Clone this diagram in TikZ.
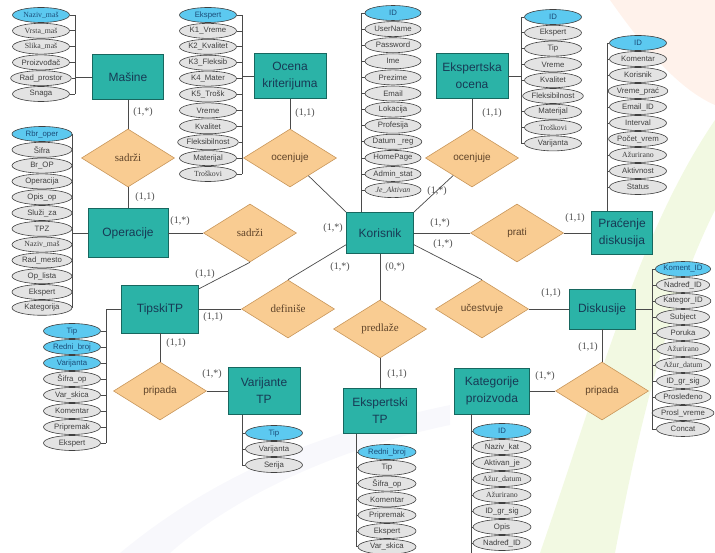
\documentclass[tikz,border=0pt]{standalone}
\usepackage{fontspec}
\setmainfont{Liberation Serif}
\setsansfont{Liberation Sans}
\usetikzlibrary{shapes.geometric,calc}

\definecolor{entfill}{HTML}{2BB3A7}
\definecolor{entline}{HTML}{17675F}
\definecolor{enttext}{HTML}{173A55}
\definecolor{relfill}{HTML}{F9CC92}
\definecolor{relline}{HTML}{C8965A}
\definecolor{reltext}{HTML}{5E4329}
\definecolor{attfill}{HTML}{E3E3E3}
\definecolor{keyfill}{HTML}{5CC9F0}
\definecolor{keytext}{HTML}{1B4C78}
\definecolor{linegray}{HTML}{4A4A4A}

\tikzset{
  ent/.style={draw=entline, fill=entfill, line width=0.8pt, text=enttext, align=center,
    font=\sffamily\fontsize{12}{17}\selectfont, minimum width=72pt, minimum height=45pt, inner sep=2pt},
  rel/.style={diamond, draw=relline, fill=relfill, line width=0.6pt, text=reltext,
    font=\sffamily\fontsize{10}{12}\selectfont, minimum width=93pt, minimum height=58pt, inner sep=0pt},
  relrm/.style={rel, font=\rmfamily\fontsize{11}{12}\selectfont},
  att/.style={ellipse, draw=black!75, fill=attfill, line width=0.6pt, text=black!75,
    font=\sffamily\fontsize{7.8}{8}\selectfont, minimum width=57pt, minimum height=15pt, inner sep=0pt},
  keyatt/.style={att, fill=keyfill, text=keytext},
  card/.style={font=\rmfamily\fontsize{10}{10}\selectfont, text=black!70},
  lnk/.style={draw=linegray, line width=0.7pt}
}

\begin{document}
\begin{tikzpicture}[x=1pt,y=-1pt]
  \useasboundingbox (0,0) rectangle (715,553);
  % faint background swoosh
  \fill[yellow!60!green, opacity=0.13] (540,553) .. controls (600,380) and (640,230) .. (715,120) -- (715,210) .. controls (670,300) and (640,420) .. (615,553) -- cycle;
  \fill[orange!70!red, opacity=0.08] (610,0) .. controls (645,50) and (680,90) .. (715,105) -- (715,0) -- cycle;
  \fill[blue!30!gray, opacity=0.04] (120,553) .. controls (220,470) and (330,430) .. (450,405) -- (450,425) .. controls (330,450) and (230,500) .. (170,553) -- cycle;

  % entities
  \node[ent, minimum width=71pt] (masine) at (128,77) {Mašine};
  \node[ent] (ocena) at (290,76) {Ocena\\kriterijuma};
  \node[ent, minimum width=67pt, minimum height=41pt] (korisnik) at (380,233) {Korisnik};
  \node[ent] (ekocena) at (472,76) {Ekspertska\\ocena};
  \node[ent, minimum width=61pt, minimum height=43pt] (pracenje) at (622,233) {Praćenje\\diskusija};
  \node[ent, minimum width=66pt, minimum height=40pt] (diskusije) at (602,309) {Diskusije};
  \node[ent, minimum width=80pt, minimum height=49pt] (operacije) at (128,233) {Operacije};
  \node[ent, minimum width=77pt, minimum height=48pt] (tipski) at (160,309) {TipskiTP};
  \node[ent, minimum height=47pt] (varijante) at (264,391) {Varijante\\TP};
  \node[ent, minimum width=73pt] (ekspertski) at (380,411) {Ekspertski\\TP};
  \node[ent, minimum width=75pt, minimum height=46pt] (kategorije) at (492,391) {Kategorije\\proizvoda};

  % relationships
  \node[relrm] (sadrziA) at (128,158) {sadrži};
  \node[rel] (ocenjujeA) at (290,158) {ocenjuje};
  \node[rel] (ocenjujeB) at (472,158) {ocenjuje};
  \node[relrm] (sadrziB) at (250,233) {sadrži};
  \node[rel] (prati) at (517,233) {prati};
  \node[relrm] (definise) at (288,309) {definiše};
  \node[relrm] (predlaze) at (380,329) {predlaže};
  \node[rel] (ucestvuje) at (482,309) {učestvuje};
  \node[rel] (pripadaA) at (160,391) {pripada};
  \node[rel] (pripadaB) at (602,391) {pripada};

  \draw[lnk] (masine) -- (sadrziA);
  \draw[lnk] (sadrziA) -- (operacije);
  \draw[lnk] (ocena) -- (ocenjujeA);
  \draw[lnk] (ocenjujeA) -- (korisnik.north west);
  \draw[lnk] (ekocena) -- (ocenjujeB);
  \draw[lnk] (ocenjujeB) -- (korisnik.north east);
  \draw[lnk] (operacije) -- (sadrziB);
  \draw[lnk] (sadrziB.south) -- (tipski);
  \draw[lnk] (tipski) -- (definise);
  \draw[lnk] (definise.north) -- ($(korisnik.south west)!0.22!(korisnik.north west)$);
  \draw[lnk] (korisnik) -- (prati);
  \draw[lnk] (prati) -- (pracenje);
  \draw[lnk] ($(korisnik.south east)!0.22!(korisnik.north east)$) -- (ucestvuje.north);
  \draw[lnk] (ucestvuje) -- (diskusije);
  \draw[lnk] (korisnik) -- (predlaze);
  \draw[lnk] (predlaze) -- (ekspertski);
  \draw[lnk] (tipski) -- (pripadaA);
  \draw[lnk] (pripadaA) -- (varijante);
  \draw[lnk] (kategorije) -- (pripadaB);
  \draw[lnk] (pripadaB) -- (diskusije);

  % cardinalities
  \node[card] (c1) at (143,112) {(1,*)};
  \node[card] (c2) at (145,197) {(1,1)};
  \node[card] (c3) at (180,221) {(1,*)};
  \node[card] (c4) at (305,113) {(1,1)};
  \node[card] (c5) at (492,113) {(1,1)};
  \node[card] (c6) at (437,191) {(1,*)};
  \node[card] (c7) at (333,228) {(1,*)};
  \node[card] (c8) at (440,223) {(1,*)};
  \node[card] (c9) at (443,244) {(1,*)};
  \node[card] (c10) at (340,267) {(1,*)};
  \node[card] (c11) at (395,267) {(0,*)};
  \node[card] (c12) at (205,274) {(1,1)};
  \node[card] (c13) at (213,317) {(1,1)};
  \node[card] (c14) at (176,343) {(1,1)};
  \node[card] (c15) at (212,374) {(1,*)};
  \node[card] (c16) at (575,218) {(1,1)};
  \node[card] (c17) at (551,293) {(1,1)};
  \node[card] (c18) at (588,347) {(1,1)};
  \node[card] (c19) at (545,376) {(1,*)};
  \node[card] (c20) at (397,374) {(1,1)};

  % Masine attributes
  \coordinate (masbus) at (75,15);
  \node[keyatt, font=\rmfamily\fontsize{7.8}{8}\selectfont] (mas1) at (41,15) {Naziv\_maš};
  \foreach \t [count=\i from 2] in {{\rmfamily Vrsta\_maš},{\rmfamily Slika\_maš},Proizvođač,Rad\_prostor,Snaga}
    \node[att] (mas\i) at (41,{15+15.8*(\i-1)}) {\t};
  \foreach \i in {1,...,6} \draw[lnk] (mas\i.east) -- (mas\i.east -| masbus);
  \draw[lnk] (masbus) -- (mas6.east -| masbus);
  \draw[lnk] (masine.west) -- (masine.west -| masbus);

  % Operacije attributes
  \coordinate (opbus) at (72,134);
  \node[keyatt, minimum width=60pt] (op1) at (42,134) {Rbr\_oper};
  \foreach \t [count=\i from 2] in {Šifra,Br\_OP,Operacija,Opis\_op,Služi\_za,TPZ,{\rmfamily Naziv\_maš},Rad\_mesto,Op\_lista,Ekspert,Kategorija}
    \node[att, minimum width=60pt] (op\i) at (42,{134+15.8*(\i-1)}) {\t};
  \foreach \i in {1,...,12} \draw[lnk] (op\i.east) -- (op\i.east -| opbus);
  \draw[lnk] (opbus) -- (op12.east -| opbus);
  \draw[lnk] (operacije.west) -- (operacije.west -| opbus);

  % Ocena kriterijuma attributes
  \coordinate (ocbus) at (242,15);
  \node[keyatt] (oc1) at (208,15) {Ekspert};
  \foreach \t [count=\i from 2] in {K1\_Vreme,K2\_Kvalitet,K3\_Fleksib,K4\_Mater,K5\_Trošk,Vreme,Kvalitet,Fleksibilnost,Materijal,{\rmfamily Troškovi}}
    \node[att] (oc\i) at (208,{15+15.9*(\i-1)}) {\t};
  \foreach \i in {1,...,11} \draw[lnk] (oc\i.east) -- (oc\i.east -| ocbus);
  \draw[lnk] (ocbus) -- (oc11.east -| ocbus);
  \draw[lnk] (ocena.west) -- (ocena.west -| ocbus);

  % Korisnik attributes
  \coordinate (korbus) at (361,13);
  \node[keyatt, minimum width=56pt] (kor1) at (393,13) {ID};
  \foreach \t [count=\i from 2] in {UserName,Password,Ime,Prezime,Email,Lokacija,Profesija,Datum \_reg,HomePage,Admin\_stat,{\rmfamily\itshape Je\_Aktivan}}
    \node[att, minimum width=56pt] (kor\i) at (393,{13+16.1*(\i-1)}) {\t};
  \foreach \i in {1,...,12} \draw[lnk] (kor\i.west) -- (kor\i.west -| korbus);
  \draw[lnk] (korbus) -- (korisnik.north -| korbus);

  % Ekspertska ocena attributes
  \coordinate (ekbus) at (521,17);
  \node[keyatt] (ek1) at (553,17) {ID};
  \foreach \t [count=\i from 2] in {Ekspert,Tip,Vreme,Kvalitet,Fleksibilnost,Materijal,{\rmfamily Troškovi},Varijanta}
    \node[att] (ek\i) at (553,{17+15.8*(\i-1)}) {\t};
  \foreach \i in {1,...,9} \draw[lnk] (ek\i.west) -- (ek\i.west -| ekbus);
  \draw[lnk] (ekbus) -- (ek9.west -| ekbus);
  \draw[lnk] (ekocena.east) -- (ekocena.east -| ekbus);

  % Pracenje diskusija attributes
  \coordinate (prbus) at (607,43);
  \node[keyatt] (pr1) at (638,43) {ID};
  \foreach \t [count=\i from 2] in {Komentar,Korisnik,Vreme\_prać,Email\_ID,Interval,Počet\_vrem,{\rmfamily Ažurirano},Aktivnost,Status}
    \node[att] (pr\i) at (638,{43+16*(\i-1)}) {\t};
  \foreach \i in {1,...,10} \draw[lnk] (pr\i.west) -- (pr\i.west -| prbus);
  \draw[lnk] (prbus) -- (pracenje.north -| prbus);

  % Diskusije attributes
  \coordinate (disbus) at (652,269);
  \node[keyatt, minimum width=53pt] (dis1) at (683,269) {Koment\_ID};
  \foreach \t [count=\i from 2] in {Nadređ\_ID,Kategor\_ID,Subject,Poruka,{\rmfamily Ažurirano},{\rmfamily Ažur\_datum},ID\_gr\_sig,Prosleđeno,Prosl\_vreme,Concat}
    \node[att, minimum width=53pt] (dis\i) at (683,{269+16*(\i-1)}) {\t};
  \foreach \i in {1,...,11} \draw[lnk] (dis\i.west) -- (dis\i.west -| disbus);
  \draw[lnk] (disbus) -- (dis11.west -| disbus);
  \draw[lnk] (diskusije.east) -- (diskusije.east -| disbus);

  % TipskiTP attributes
  \coordinate (tipbus) at (106,309);
  \node[keyatt] (tip1) at (72,331) {Tip};
  \node[keyatt] (tip2) at (72,347) {Redni\_broj};
  \node[keyatt] (tip3) at (72,363) {Varijanta};
  \foreach \t [count=\i from 4] in {Šifra\_op,Var\_skica,Komentar,Pripremak,Ekspert}
    \node[att] (tip\i) at (72,{331+16*(\i-1)}) {\t};
  \foreach \i in {1,...,8} \draw[lnk] (tip\i.east) -- (tip\i.east -| tipbus);
  \draw[lnk] (tipski.west) -- (tipbus) -- (tip8.east -| tipbus);

  % Varijante TP attributes
  \coordinate (varbus) at (242,465);
  \node[keyatt] (var1) at (274,433) {Tip};
  \node[att] (var2) at (274,449) {Varijanta};
  \node[att] (var3) at (274,465) {Serija};
  \foreach \i in {1,2,3} \draw[lnk] (var\i.west) -- (var\i.west -| varbus);
  \draw[lnk] (varijante.south -| varbus) -- (varbus);

  % Ekspertski TP attributes
  \coordinate (etpbus) at (356,547);
  \node[keyatt, minimum width=58pt] (etp1) at (387,452) {Redni\_broj};
  \foreach \t [count=\i from 2] in {Tip,Šifra\_op,Komentar,Pripremak,Ekspert,Var\_skica}
    \node[att, minimum width=58pt] (etp\i) at (387,{452+15.8*(\i-1)}) {\t};
  \foreach \i in {1,...,7} \draw[lnk] (etp\i.west) -- (etp\i.west -| etpbus);
  \draw[lnk] (ekspertski.south -| etpbus) -- (etpbus);

  % Kategorije proizvoda attributes
  \coordinate (katbus) at (471,553);
  \node[keyatt, minimum width=58pt] (kat1) at (502,431) {ID};
  \foreach \t [count=\i from 2] in {Naziv\_kat,Aktivan\_je,{\rmfamily Ažur\_datum},{\rmfamily Ažurirano},ID\_gr\_sig,Opis,Nadređ\_ID}
    \node[att, minimum width=58pt] (kat\i) at (502,{431+16*(\i-1)}) {\t};
  \foreach \i in {1,...,8} \draw[lnk] (kat\i.west) -- (kat\i.west -| katbus);
  \draw[lnk] (kategorije.south -| katbus) -- (katbus);
\end{tikzpicture}
\end{document}
